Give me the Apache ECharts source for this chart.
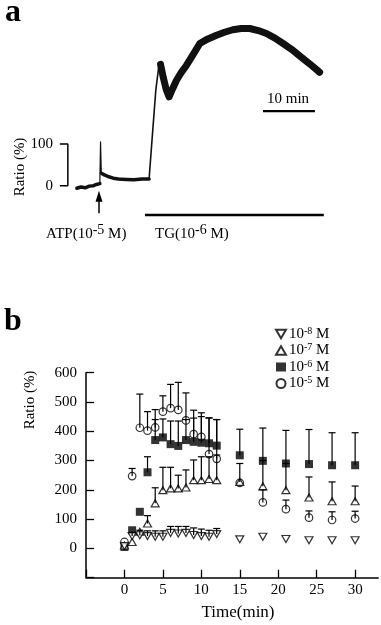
<!DOCTYPE html>
<html>
<head>
<meta charset="utf-8">
<script src="https://cdn.jsdelivr.net/npm/echarts@6/dist/echarts.min.js"></script>
<style>
html,body{margin:0;padding:0;background:#fff;}
#chart{width:381px;height:625px;}
</style>
</head>
<body>
<div id="chart"></div>
<script>
// ---------- Panel a: single trace (time in min, ratio in %) ----------
const aBaseline = [[0,-6],[0.8,-3],[1.6,-5],[2.4,-1],[3.2,0],[3.8,3],[4.42,5]];
const aSpike = [[4.42,5],[4.56,105],[4.71,30]];
const aPlateau = [[4.71,30],[5.3,26],[6,22],[7,18],[8,16],[9.5,15],[11,14],[12.5,16],[13.9,16]];
const aRise = [[13.9,16],[14.56,126],[15.19,229],[15.8,290],[16.1,291]];
const aLate = [[16.1,291],[16.6,261],[17.2,230],[17.75,213],[18.4,232],[19.17,253],[20,270],[21.1,289],[22.3,313],[23.65,341],[25.2,352],[26.87,361],[28.4,368],[30,374],[31.6,377],[33.27,377],[34.9,372],[36.48,365],[38.1,354],[39.67,341],[41.3,327],[42.88,311],[44.8,292],[46.7,272]];
const aRatioBracket = [[-3.27,100],[-1.73,100],[-1.73,0],[-3.27,0]];
const aTGBar = [[13.1,-70],[47.5,-70]];
const aATPArrow = [[4.26,-66],[4.26,-25]];
const aScaleBar = [[35.8,179],[45.8,179]];

// ---------- Panel b ----------
const times = [0,1,2,3,4,5,6,7,8,9,10,11,12,15,18,21,24,27,30];
const m8 = [8,42,45,42,40,40,53,51,53,46,42,40,49,31,40,32,28,28,28];
const m8Err = [null,55,62,60,60,60,75,75,75,70,66,62,68,null,null,null,null,null,null];
const m7 = [10,22,57,85,154,199,205,205,208,233,233,237,233,227,212,199,174,161,161];
const m7Err = [null,null,null,112,207,277,277,250,268,302,313,313,319,290,300,290,244,227,213];
const m6 = [5,62,125,260,370,379,356,350,370,364,361,359,351,318,299,290,288,284,284];
const m6Err = [null,null,null,313,440,442,435,435,440,445,450,445,440,407,411,403,406,395,395];
const m5 = [22,247,412,402,413,467,479,473,437,390,381,322,306,224,157,134,105,97,102];
const m5Err = [null,273,527,467,474,521,560,567,531,472,463,446,440,null,200,165,128,125,127];
const seriesNames = ['10-8 M','10-7 M','10-6 M','10-5 M'];
const xTicksB = [0,5,10,15,20,25,30];
const yTicksB = [0,100,200,300,400,500,600];

const FONT = "'Liberation Serif','Times New Roman',serif";
const pts = (vals) => times.map((t,i) => [t, vals[i]]);
const errPts = (vals, tops) => times.map((t,i) => [t, vals[i], tops[i]]).filter(d => d[2] != null);

const DOWN = 'path://M0,0L10,0L5,8.66Z';
const UP = 'path://M5,0L10,8.66L0,8.66Z';

function errRender(params, api) {
  const p0 = api.coord([api.value(0), api.value(1)]);
  const p1 = api.coord([api.value(0), api.value(2)]);
  const st = {stroke:'#000', lineWidth:1.2};
  return {type:'group', children:[
    {type:'line', shape:{x1:p0[0],y1:p0[1],x2:p1[0],y2:p1[1]}, style:st},
    {type:'line', shape:{x1:p1[0]-3.5,y1:p1[1],x2:p1[0]+3.5,y2:p1[1]}, style:st}
  ]};
}

function lineA(name, data, w) {
  return {name:name, type:'line', xAxisIndex:0, yAxisIndex:0, data:data, showSymbol:false, symbol:'none',
    lineStyle:{color:'#111', width:w, join:'round', cap:'round'}, silent:true, z:3};
}

const chart = echarts.init(document.getElementById('chart'), null, {renderer:'canvas'});
chart.setOption({
  animation:false,
  backgroundColor:'#fff',
  textStyle:{fontFamily:FONT, color:'#000'},
  grid:[
    {left:55, top:18.9, width:271.4, height:208.5},
    {left:86, top:372.7, width:292.2, height:205}
  ],
  xAxis:[
    {gridIndex:0, type:'value', min:-4.2, max:48, show:false},
    {gridIndex:1, type:'value', min:-5, max:33, interval:5,
      axisLine:{onZero:false, lineStyle:{color:'#000', width:1.5}},
      axisTick:{inside:true, length:8, lineStyle:{color:'#000', width:1.3}},
      axisLabel:{color:'#000', fontFamily:FONT, fontSize:15, margin:5, showMaxLabel:false,
        formatter:v => xTicksB.includes(v) ? String(v) : ''},
      splitLine:{show:false}}
  ],
  yAxis:[
    {gridIndex:0, type:'value', min:-100, max:400, interval:100,
      axisLine:{show:false}, axisTick:{show:false}, splitLine:{show:false},
      axisLabel:{color:'#000', fontFamily:FONT, fontSize:15, margin:2,
        formatter:v => (v===0||v===100) ? String(v) : ''}},
    {gridIndex:1, type:'value', min:-100, max:600, interval:100,
      axisLine:{onZero:false, lineStyle:{color:'#000', width:1.5}},
      axisTick:{inside:true, length:8, lineStyle:{color:'#000', width:1.3}},
      axisLabel:{color:'#000', fontFamily:FONT, fontSize:15, margin:9,
        formatter:v => yTicksB.includes(v) ? String(v) : ''},
      splitLine:{show:false}}
  ],
  legend:{
    orient:'vertical', left:270, top:321, itemGap:1, itemWidth:10, itemHeight:9,
    data:[
      {name:'10-8 M', icon:DOWN},
      {name:'10-7 M', icon:UP},
      {name:'10-6 M', icon:'rect'},
      {name:'10-5 M', icon:'circle'}
    ],
    formatter: n => n.replace(/^10(-\d)/, '10{s|$1}'),
    textStyle:{fontFamily:FONT, fontSize:15, color:'#000', padding:[0,0,0,-2],
      rich:{s:{fontFamily:FONT, fontSize:10, color:'#000', padding:[0,0,6,0]}}},
    selectedMode:false
  },
  graphic:[
    {type:'text', left:5, top:-3, style:{text:'a', font:"bold 32px "+FONT, fill:'#000'}},
    {type:'text', left:4, top:306, style:{text:'b', font:"bold 32px "+FONT, fill:'#000'}},
    {type:'text', x:20, y:167, rotation:Math.PI/2, style:{text:'Ratio (%)', font:"15px "+FONT, fill:'#000', align:'center', verticalAlign:'middle'}},
    {type:'text', x:30, y:400, rotation:Math.PI/2, style:{text:'Ratio (%)', font:"15px "+FONT, fill:'#000', align:'center', verticalAlign:'middle'}},
    {type:'text', x:238, y:613, style:{text:'Time(min)', font:"17px "+FONT, fill:'#000', align:'center', verticalAlign:'middle'}},
    {type:'text', x:288, y:99, style:{text:'10 min', font:"15px "+FONT, fill:'#000', align:'center', verticalAlign:'middle'}},
    {type:'text', x:46, y:234, style:{text:'ATP(10{s|-5} M)', font:"15px "+FONT, fill:'#000', verticalAlign:'middle',
      rich:{s:{font:"14px "+FONT, fill:'#000', padding:[0,0,8,0]}}}},
    {type:'text', x:155, y:234, style:{text:'TG(10{s|-6} M)', font:"15px "+FONT, fill:'#000', verticalAlign:'middle',
      rich:{s:{font:"14px "+FONT, fill:'#000', padding:[0,0,8,0]}}}}
  ],
  series:[
    lineA('baseline', aBaseline, 3.5),
    lineA('spike', aSpike, 1.2),
    lineA('plateau', aPlateau, 3.5),
    lineA('rise', aRise, 1.6),
    lineA('late', aLate, 7),
    {name:'bracket', type:'line', xAxisIndex:0, yAxisIndex:0, data:aRatioBracket, symbol:'none',
      lineStyle:{color:'#000', width:1.5}, silent:true},
    {name:'TG', type:'line', xAxisIndex:0, yAxisIndex:0, data:aTGBar, symbol:'none',
      lineStyle:{color:'#000', width:2.5}, silent:true},
    {name:'scalebar', type:'line', xAxisIndex:0, yAxisIndex:0, data:aScaleBar, symbol:'none',
      lineStyle:{color:'#000', width:2.2}, silent:true},
    {name:'arrow', type:'line', xAxisIndex:0, yAxisIndex:0, data:[], symbol:'none', silent:true,
      markLine:{silent:true, symbol:['none','triangle'], symbolSize:[7,11], label:{show:false},
        lineStyle:{color:'#000', width:1.5, type:'solid'},
        data:[[{coord:aATPArrow[0]},{coord:aATPArrow[1]}]]}},

    {name:'10-5 M', type:'scatter', xAxisIndex:1, yAxisIndex:1, data:pts(m5), symbol:'circle', symbolSize:7.5,
      itemStyle:{color:'#fff', borderColor:'#000', borderWidth:1.2}, z:4},
    {name:'10-6 M', type:'scatter', xAxisIndex:1, yAxisIndex:1, data:pts(m6), symbol:'rect', symbolSize:8,
      itemStyle:{color:'#000', borderColor:'#000', borderWidth:0}, z:5},
    {name:'10-7 M', type:'scatter', xAxisIndex:1, yAxisIndex:1, data:pts(m7), symbol:UP, symbolSize:[8,7],
      itemStyle:{color:'#fff', borderColor:'#000', borderWidth:1.2}, z:6},
    {name:'10-8 M', type:'scatter', xAxisIndex:1, yAxisIndex:1, data:pts(m8), symbol:DOWN, symbolSize:[8,7],
      itemStyle:{color:'#fff', borderColor:'#000', borderWidth:1.2}, z:7},

    {name:'err5', type:'custom', xAxisIndex:1, yAxisIndex:1, data:errPts(m5,m5Err), renderItem:errRender, z:8, silent:true},
    {name:'err6', type:'custom', xAxisIndex:1, yAxisIndex:1, data:errPts(m6,m6Err), renderItem:errRender, z:8, silent:true},
    {name:'err7', type:'custom', xAxisIndex:1, yAxisIndex:1, data:errPts(m7,m7Err), renderItem:errRender, z:8, silent:true},
    {name:'err8', type:'custom', xAxisIndex:1, yAxisIndex:1, data:errPts(m8,m8Err), renderItem:errRender, z:8, silent:true}
  ]
});
</script>
</body>
</html>
